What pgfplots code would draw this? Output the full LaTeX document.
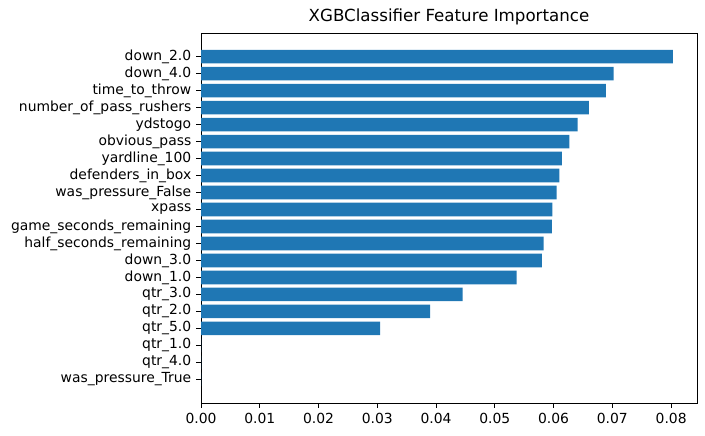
\documentclass[border=0pt]{standalone}
\usepackage{pgfplots}
\pgfplotsset{compat=1.18}
\usepackage{pgfplotstable}
\usepackage{fontspec}
\setmainfont{DejaVu Sans}
\definecolor{mplblue}{HTML}{1F77B4}
\pgfplotstableread{
y x
0 0
1 0
2 0
3 0.0305
4 0.0390
5 0.0445
6 0.0537
7 0.0580
8 0.0583
9 0.0597
10 0.0598
11 0.0605
12 0.0610
13 0.0614
14 0.0627
15 0.0641
16 0.0660
17 0.0689
18 0.0702
19 0.0803
}\data
\begin{document}
\begin{tikzpicture}[x=0.72pt,y=0.72pt]
\begin{axis}[
  scale only axis,
  width=357.1pt, height=266.4pt,
  xmin=0, xmax=0.0844,
  ymin=-1.39, ymax=20.39,
  xtick={0,0.01,0.02,0.03,0.04,0.05,0.06,0.07,0.08},
  scaled x ticks=false,
  xticklabel style={/pgf/number format/.cd, fixed, fixed zerofill, precision=2},
  /pgf/number format/assume math mode=true,
  ytick={0,...,19},
  yticklabels={was\_pressure\_True, qtr\_4.0, qtr\_1.0, qtr\_5.0, qtr\_2.0, qtr\_3.0, down\_1.0, down\_3.0, half\_seconds\_remaining, game\_seconds\_remaining, xpass, was\_pressure\_False, defenders\_in\_box, yardline\_100, obvious\_pass, ydstogo, number\_of\_pass\_rushers, time\_to\_throw, down\_4.0, down\_2.0},
  tick label style={font=\fontsize{10}{12}\selectfont},
  tick align=outside,
  xtick pos=bottom, ytick pos=left,
  major tick length=3.5pt,
  tick style={black, line width=0.6pt},
  axis line style={line width=0.6pt},
  title={XGBClassifier Feature Importance},
  title style={font=\fontsize{12}{14}\selectfont, yshift=-4pt},
  xbar, bar width=0.8,
]
\addplot[fill=mplblue, draw=none] table[x=x, y=y] {\data};
\end{axis}
\pgfresetboundingbox
\useasboundingbox ([xshift=-201*0.72pt, yshift=-32*0.72pt]current axis.south west) rectangle ([xshift=8*0.72pt, yshift=33*0.72pt]current axis.north east);
\end{tikzpicture}
\end{document}
